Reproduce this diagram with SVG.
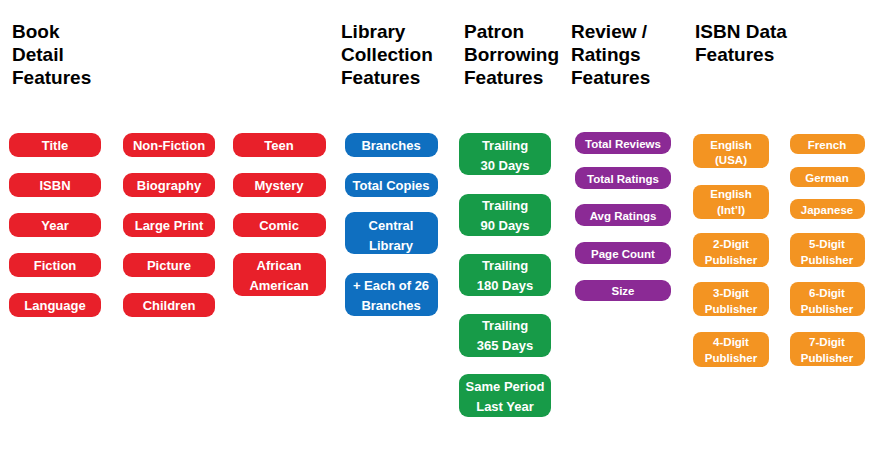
<svg xmlns="http://www.w3.org/2000/svg" width="880" height="453" viewBox="0 0 880 453">
<style>
text{font-family:"Liberation Sans",Arial,sans-serif;font-weight:bold}
.h{font-size:19px;fill:#000}
.t{font-size:13px;fill:#fff;text-anchor:middle}
.s{font-size:11.5px;fill:#fff;text-anchor:middle}
.r{fill:#e8202a}.b{fill:#0f6fc0}.g{fill:#179b48}.p{fill:#8b2a95}.o{fill:#f39422}
</style>
<rect width="880" height="453" fill="#fff"/>
<g id="headings">
<text class="h" x="12" y="38">Book</text><text class="h" x="12" y="61">Detail</text><text class="h" x="12" y="84">Features</text>
<text class="h" x="341" y="38">Library</text><text class="h" x="341" y="61">Collection</text><text class="h" x="341" y="84">Features</text>
<text class="h" x="464" y="38">Patron</text><text class="h" x="464" y="61">Borrowing</text><text class="h" x="464" y="84">Features</text>
<text class="h" x="571" y="38">Review /</text><text class="h" x="571" y="61">Ratings</text><text class="h" x="571" y="84">Features</text>
<text class="h" x="695" y="38">ISBN Data</text><text class="h" x="695" y="61">Features</text>
</g>
<g id="book">
<g id="n-title"><rect class="r" x="9" y="133" width="92" height="24" rx="9"/><text class="t" x="55" y="150">Title</text></g>
<g id="n-isbn"><rect class="r" x="9" y="173" width="92" height="24" rx="9"/><text class="t" x="55" y="190">ISBN</text></g>
<g id="n-year"><rect class="r" x="9" y="213" width="92" height="24" rx="9"/><text class="t" x="55" y="230">Year</text></g>
<g id="n-fiction"><rect class="r" x="9" y="253" width="92" height="24" rx="9"/><text class="t" x="55" y="270">Fiction</text></g>
<g id="n-language"><rect class="r" x="9" y="293" width="92" height="24" rx="9"/><text class="t" x="55" y="310">Language</text></g>
<g id="n-nonfiction"><rect class="r" x="123" y="133" width="92" height="24" rx="9"/><text class="t" x="169" y="150">Non-Fiction</text></g>
<g id="n-biography"><rect class="r" x="123" y="173" width="92" height="24" rx="9"/><text class="t" x="169" y="190">Biography</text></g>
<g id="n-largeprint"><rect class="r" x="123" y="213" width="92" height="24" rx="9"/><text class="t" x="169" y="230">Large Print</text></g>
<g id="n-picture"><rect class="r" x="123" y="253" width="92" height="24" rx="9"/><text class="t" x="169" y="270">Picture</text></g>
<g id="n-children"><rect class="r" x="123" y="293" width="92" height="24" rx="9"/><text class="t" x="169" y="310">Children</text></g>
<g id="n-teen"><rect class="r" x="233" y="133" width="93" height="24" rx="9"/><text class="t" x="279" y="150">Teen</text></g>
<g id="n-mystery"><rect class="r" x="233" y="173" width="93" height="24" rx="9"/><text class="t" x="279" y="190">Mystery</text></g>
<g id="n-comic"><rect class="r" x="233" y="213" width="93" height="24" rx="9"/><text class="t" x="279" y="230">Comic</text></g>
<g id="n-african"><rect class="r" x="233" y="253" width="93" height="43" rx="9"/><text class="t" x="279" y="270">African</text><text class="t" x="279" y="290">American</text></g>
</g>
<g id="library">
<g id="n-branches"><rect class="b" x="345" y="133" width="93" height="24" rx="9"/><text class="t" x="391" y="150">Branches</text></g>
<g id="n-totalcopies"><rect class="b" x="345" y="173" width="93" height="24" rx="9"/><text class="t" x="391" y="190">Total Copies</text></g>
<g id="n-central"><rect class="b" x="345" y="212" width="93" height="42" rx="9"/><text class="t" x="391" y="230">Central</text><text class="t" x="391" y="250">Library</text></g>
<g id="n-each"><rect class="b" x="345" y="273" width="93" height="43" rx="9"/><text class="t" x="391" y="290">+ Each of 26</text><text class="t" x="391" y="310">Branches</text></g>
</g>
<g id="patron">
<g id="n-30"><rect class="g" x="459" y="133" width="92" height="42" rx="9"/><text class="t" x="505" y="150">Trailing</text><text class="t" x="505" y="170">30 Days</text></g>
<g id="n-90"><rect class="g" x="459" y="194" width="92" height="42" rx="9"/><text class="t" x="505" y="210">Trailing</text><text class="t" x="505" y="230">90 Days</text></g>
<g id="n-180"><rect class="g" x="459" y="254" width="92" height="42" rx="9"/><text class="t" x="505" y="270">Trailing</text><text class="t" x="505" y="290">180 Days</text></g>
<g id="n-365"><rect class="g" x="459" y="314" width="92" height="43" rx="9"/><text class="t" x="505" y="330">Trailing</text><text class="t" x="505" y="350">365 Days</text></g>
<g id="n-same"><rect class="g" x="459" y="374" width="92" height="43" rx="9"/><text class="t" x="505" y="391">Same Period</text><text class="t" x="505" y="411">Last Year</text></g>
</g>
<g id="review">
<g id="n-reviews"><rect class="p" x="575" y="132" width="96" height="22" rx="9"/><text class="s" x="623" y="147.5">Total Reviews</text></g>
<g id="n-ratings"><rect class="p" x="575" y="167" width="96" height="22" rx="9"/><text class="s" x="623" y="182.5">Total Ratings</text></g>
<g id="n-avg"><rect class="p" x="575" y="204" width="96" height="22" rx="9"/><text class="s" x="623" y="219.5">Avg Ratings</text></g>
<g id="n-page"><rect class="p" x="575" y="242" width="96" height="22" rx="9"/><text class="s" x="623" y="257.5">Page Count</text></g>
<g id="n-size"><rect class="p" x="575" y="280" width="96" height="21" rx="9"/><text class="s" x="623" y="295">Size</text></g>
</g>
<g id="isbn">
<g id="n-engusa"><rect class="o" x="693" y="134" width="76" height="34" rx="8"/><text class="s" x="731" y="149">English</text><text class="s" x="731" y="164">(USA)</text></g>
<g id="n-engintl"><rect class="o" x="693" y="185" width="76" height="34" rx="8"/><text class="s" x="731" y="198">English</text><text class="s" x="731" y="214">(Int’l)</text></g>
<g id="n-2d"><rect class="o" x="693" y="233" width="76" height="34" rx="8"/><text class="s" x="731" y="248">2-Digit</text><text class="s" x="731" y="264">Publisher</text></g>
<g id="n-3d"><rect class="o" x="693" y="282" width="76" height="34" rx="8"/><text class="s" x="731" y="297">3-Digit</text><text class="s" x="731" y="313">Publisher</text></g>
<g id="n-4d"><rect class="o" x="693" y="332" width="76" height="35" rx="8"/><text class="s" x="731" y="346">4-Digit</text><text class="s" x="731" y="362">Publisher</text></g>
<g id="n-french"><rect class="o" x="790" y="134" width="75" height="20" rx="8"/><text class="s" x="827" y="149">French</text></g>
<g id="n-german"><rect class="o" x="790" y="167" width="75" height="20" rx="8"/><text class="s" x="827" y="182">German</text></g>
<g id="n-japanese"><rect class="o" x="790" y="199" width="75" height="20" rx="8"/><text class="s" x="827" y="214">Japanese</text></g>
<g id="n-5d"><rect class="o" x="790" y="233" width="75" height="34" rx="8"/><text class="s" x="827" y="248">5-Digit</text><text class="s" x="827" y="264">Publisher</text></g>
<g id="n-6d"><rect class="o" x="790" y="282" width="75" height="34" rx="8"/><text class="s" x="827" y="297">6-Digit</text><text class="s" x="827" y="313">Publisher</text></g>
<g id="n-7d"><rect class="o" x="790" y="332" width="75" height="34" rx="8"/><text class="s" x="827" y="346">7-Digit</text><text class="s" x="827" y="362">Publisher</text></g>
</g>
<g id="connectors"/>
</svg>
